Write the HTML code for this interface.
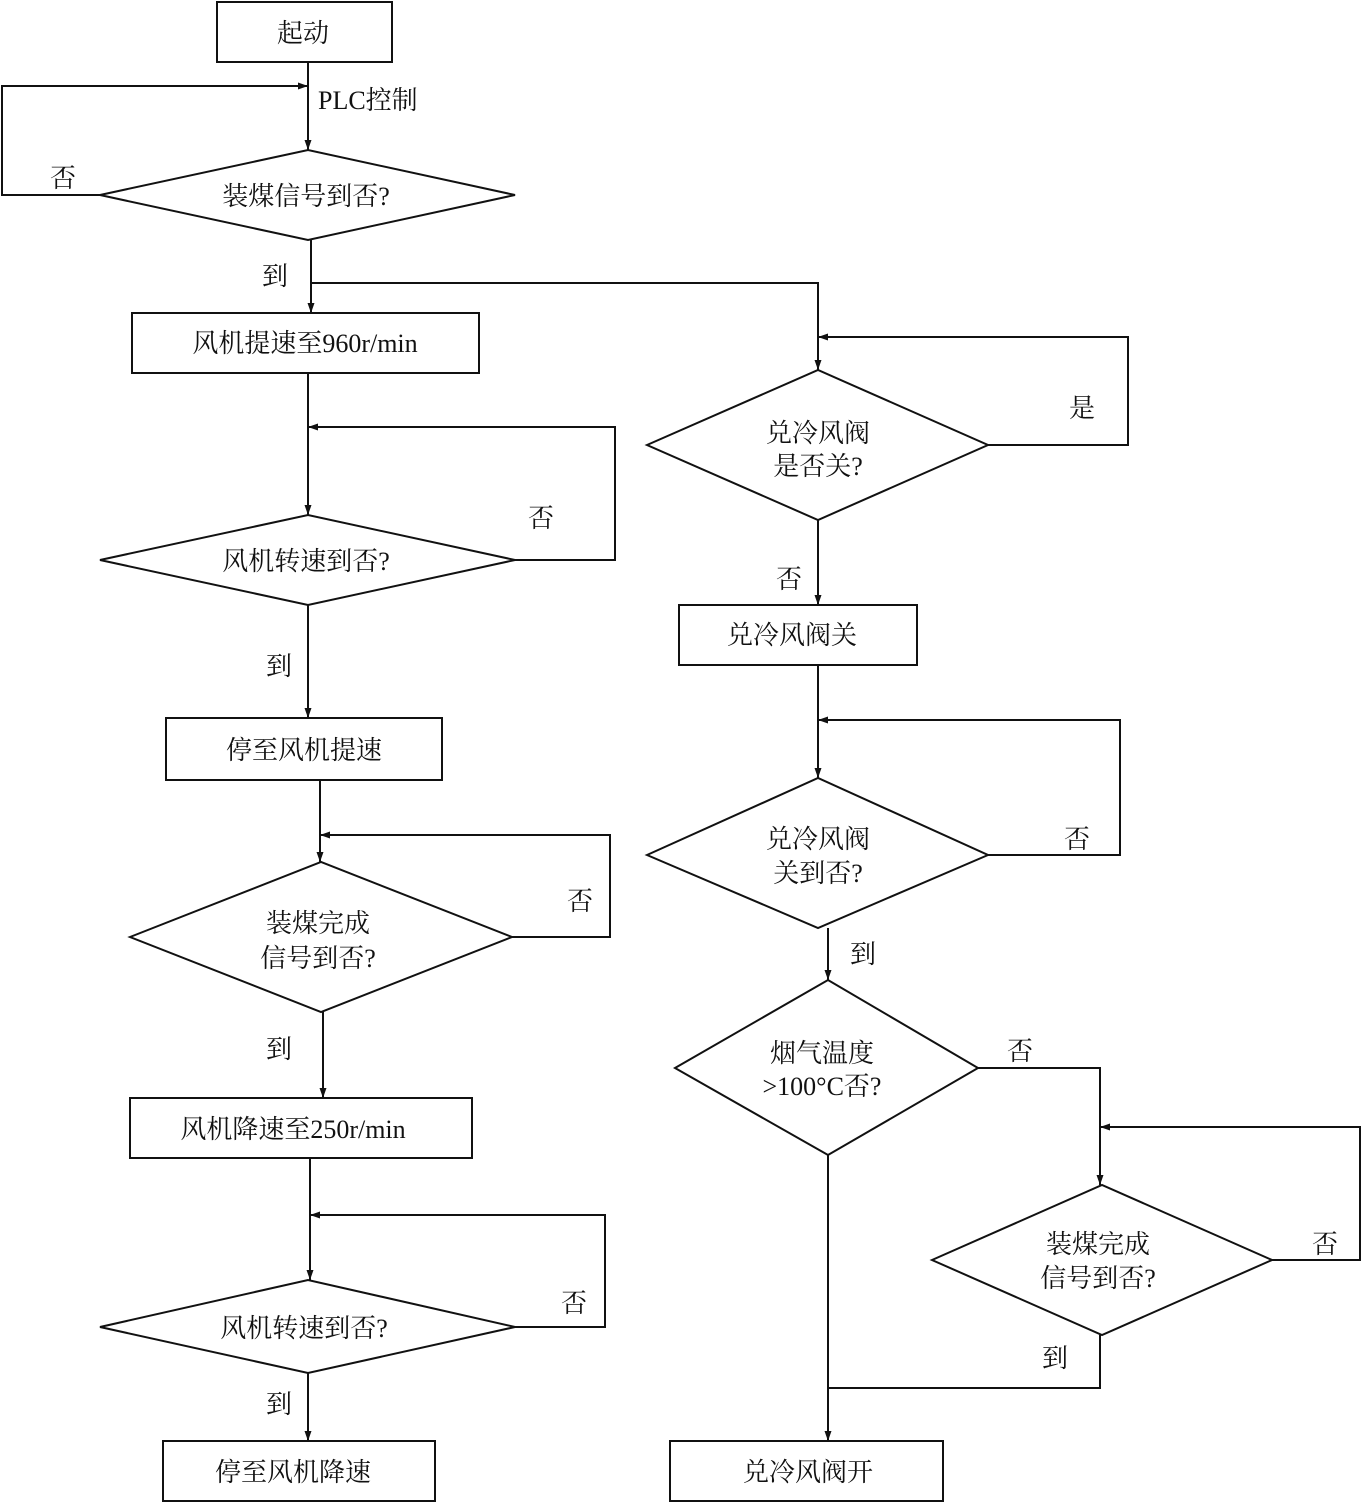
<!DOCTYPE html>
<html><head><meta charset="utf-8"><style>
html,body{margin:0;padding:0;background:#fff}
svg text{font-family:"Liberation Serif","Noto Serif CJK SC",serif;font-size:26px;fill:#111}
</style></head><body>
<svg width="1361" height="1503" viewBox="0 0 1361 1503" xmlns="http://www.w3.org/2000/svg">
<defs><marker id="a" viewBox="0 0 10 10" refX="10" refY="5" markerWidth="16" markerHeight="10" markerUnits="userSpaceOnUse" orient="auto"><path d="M0,1.5 L10,5 L0,8.5 z" fill="#111"/></marker></defs>
<g fill="none" stroke="#111" stroke-width="2">
<!-- boxes -->
<rect x="217" y="2" width="175" height="60"/>
<rect x="132" y="313" width="347" height="60"/>
<rect x="166" y="718" width="276" height="62"/>
<rect x="130" y="1098" width="342" height="60"/>
<rect x="163" y="1441" width="272" height="60"/>
<rect x="679" y="605" width="238" height="60"/>
<rect x="670" y="1441" width="273" height="60"/>
<!-- diamonds -->
<polygon points="100,195 308,150 515,195 308,240"/>
<polygon points="100,560 308,515 515,560 308,605"/>
<polygon points="130,937 321,862 512,937 321,1012"/>
<polygon points="100,1327 308,1280 515,1327 308,1373"/>
<polygon points="647,445 818,370 988,445 818,520"/>
<polygon points="647,855 818,778 988,855 818,928"/>
<polygon points="675,1068 828,980 978,1068 828,1155"/>
<polygon points="932,1260 1102,1185 1272,1260 1102,1335"/>
<!-- left connectors -->
<line x1="308" y1="62" x2="308" y2="150" marker-end="url(#a)"/>
<polyline points="100,195 2,195 2,86 308,86" marker-end="url(#a)"/>
<line x1="311" y1="240" x2="311" y2="313" marker-end="url(#a)"/>
<polyline points="311,283 818,283 818,370" marker-end="url(#a)"/>
<line x1="308" y1="373" x2="308" y2="515" marker-end="url(#a)"/>
<polyline points="515,560 615,560 615,427 308,427" marker-end="url(#a)"/>
<line x1="308" y1="605" x2="308" y2="718" marker-end="url(#a)"/>
<line x1="320" y1="780" x2="320" y2="862" marker-end="url(#a)"/>
<polyline points="512,937 610,937 610,835 320,835" marker-end="url(#a)"/>
<line x1="323" y1="1012" x2="323" y2="1098" marker-end="url(#a)"/>
<line x1="310" y1="1158" x2="310" y2="1280" marker-end="url(#a)"/>
<polyline points="515,1327 605,1327 605,1215 310,1215" marker-end="url(#a)"/>
<line x1="308" y1="1373" x2="308" y2="1441" marker-end="url(#a)"/>
<!-- right connectors -->
<polyline points="988,445 1128,445 1128,337 818,337" marker-end="url(#a)"/>
<line x1="818" y1="520" x2="818" y2="605" marker-end="url(#a)"/>
<line x1="818" y1="665" x2="818" y2="778" marker-end="url(#a)"/>
<polyline points="988,855 1120,855 1120,720 818,720" marker-end="url(#a)"/>
<line x1="828" y1="928" x2="828" y2="980" marker-end="url(#a)"/>
<polyline points="978,1068 1100,1068 1100,1185" marker-end="url(#a)"/>
<polyline points="1272,1260 1360,1260 1360,1127 1100,1127" marker-end="url(#a)"/>
<polyline points="1100,1335 1100,1388 828,1388"/>
<line x1="828" y1="1155" x2="828" y2="1441" marker-end="url(#a)"/>
</g>
<g text-anchor="middle">
<text x="303" y="42">起动</text>
<text x="305" y="352">风机提速至960r/min</text>
<text x="304" y="759">停至风机提速</text>
<text x="293" y="1138">风机降速至250r/min</text>
<text x="293" y="1481">停至风机降速</text>
<text x="792" y="644">兑冷风阀关</text>
<text x="808" y="1481">兑冷风阀开</text>
<text x="306" y="205">装煤信号到否?</text>
<text x="306" y="570">风机转速到否?</text>
<text x="318" y="932">装煤完成</text>
<text x="318" y="967">信号到否?</text>
<text x="304" y="1337">风机转速到否?</text>
<text x="818" y="442">兑冷风阀</text>
<text x="818" y="475">是否关?</text>
<text x="818" y="848">兑冷风阀</text>
<text x="818" y="882">关到否?</text>
<text x="822" y="1062">烟气温度</text>
<text x="822" y="1095">&gt;100°C否?</text>
<text x="1098" y="1253">装煤完成</text>
<text x="1098" y="1287">信号到否?</text>
</g>
<g>
<text x="318" y="109">PLC控制</text>
<text x="50" y="187">否</text>
<text x="262" y="285">到</text>
<text x="528" y="527">否</text>
<text x="266" y="675">到</text>
<text x="567" y="910">否</text>
<text x="266" y="1058">到</text>
<text x="561" y="1312">否</text>
<text x="266" y="1413">到</text>
<text x="1069" y="417">是</text>
<text x="776" y="588">否</text>
<text x="1064" y="848">否</text>
<text x="850" y="963">到</text>
<text x="1007" y="1060">否</text>
<text x="1312" y="1253">否</text>
<text x="1042" y="1367">到</text>
</g>
</svg>
</body></html>
